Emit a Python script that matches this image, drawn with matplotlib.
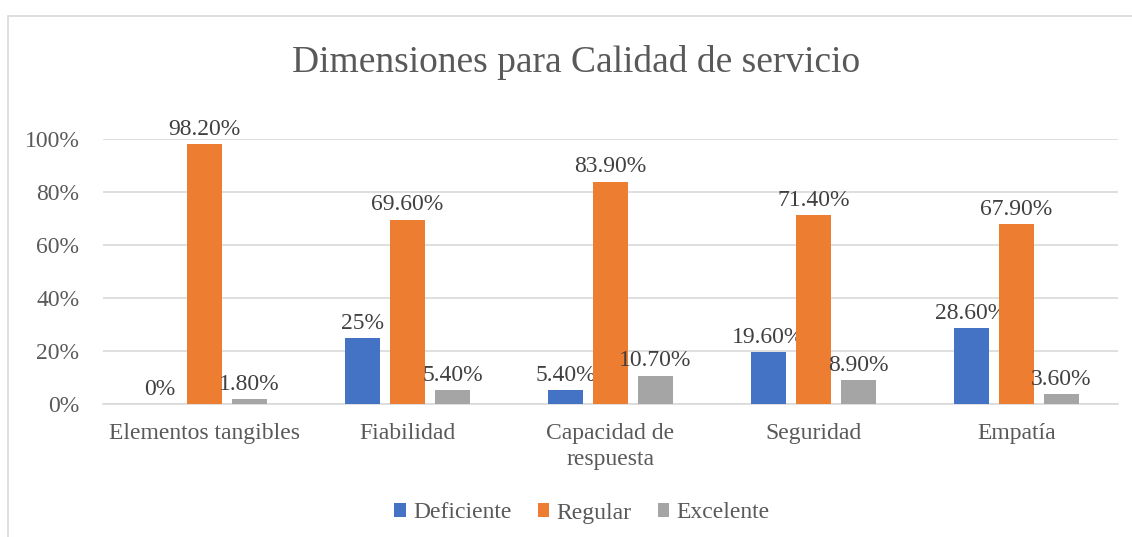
import matplotlib
matplotlib.use("Agg")
import matplotlib.pyplot as plt
import numpy as np
from matplotlib.patches import Rectangle

categories = ["Elementos tangibles", "Fiabilidad", "Capacidad de\nrespuesta", "Seguridad", "Empatía"]
series_names = ["Deficiente", "Regular", "Excelente"]
deficiente = [0.0, 25.0, 5.4, 19.6, 28.6]
regular = [98.2, 69.6, 83.9, 71.4, 67.9]
excelente = [1.8, 5.4, 10.7, 8.9, 3.6]
value_labels = [
    ["0%", "25%", "5.40%", "19.60%", "28.60%"],
    ["98.20%", "69.60%", "83.90%", "71.40%", "67.90%"],
    ["1.80%", "5.40%", "10.70%", "8.90%", "3.60%"],
]
yticks = [0, 20, 40, 60, 80, 100]
ytick_labels = ["0%", "20%", "40%", "60%", "80%", "100%"]
colors = ["#4472C4", "#ED7D31", "#A5A5A5"]
text_color = "#595959"

plt.rcParams["font.family"] = ["Liberation Serif", "DejaVu Serif"]

fig = plt.figure(figsize=(11.32, 5.37), dpi=100)
fig.patches.append(Rectangle((8 / 1132, -0.05), 1.2, (537 - 16) / 537 + 0.05,
                             transform=fig.transFigure, fill=False,
                             edgecolor="#D9D9D9", linewidth=1.2))

ax = fig.add_axes([103 / 1132, 133 / 537, (1118 - 103) / 1132, 265 / 537])

x = np.arange(len(categories))
slot = 45 / 203
width = 35 / 203
data = [deficiente, regular, excelente]
for i, (vals, name, col) in enumerate(zip(data, series_names, colors)):
    pos = x + (i - 1) * slot
    bars = ax.bar(pos, vals, width=width, color=col, label=name, zorder=3)
    for b, lab in zip(bars, value_labels[i]):
        ax.annotate(lab, (b.get_x() + b.get_width() / 2, b.get_height()),
                    xytext=(0, 3), textcoords="offset points",
                    ha="center", va="bottom", fontsize=17, color="#404040")

ax.set_xlim(-0.5, len(categories) - 0.5)
ax.set_ylim(0, 100)
ax.set_yticks(yticks)
ax.set_yticklabels(ytick_labels)
ax.set_xticks(x)
ax.set_xticklabels(categories, linespacing=1.3)
ax.tick_params(axis="both", length=0, labelsize=17, labelcolor=text_color)
ax.tick_params(axis="x", pad=14)
ax.tick_params(axis="y", pad=17)
ax.grid(axis="y", color="#D9D9D9", linewidth=1.2, zorder=0)
for s in ["top", "right", "left"]:
    ax.spines[s].set_visible(False)
ax.spines["bottom"].set_color("#D9D9D9")
ax.spines["bottom"].set_linewidth(1.2)

fig.text(576 / 1132, (537 - 62) / 537, "Dimensiones para Calidad de servicio",
         ha="center", va="center", fontsize=27, color=text_color)

leg = fig.legend(loc="center", bbox_to_anchor=(582 / 1132, 24 / 537), ncol=3,
                 frameon=False, fontsize=17, handlelength=0.5, handleheight=0.5,
                 handletextpad=0.3, columnspacing=1.1)
for t in leg.get_texts():
    t.set_color(text_color)

fig.savefig("out.png", dpi=100)
